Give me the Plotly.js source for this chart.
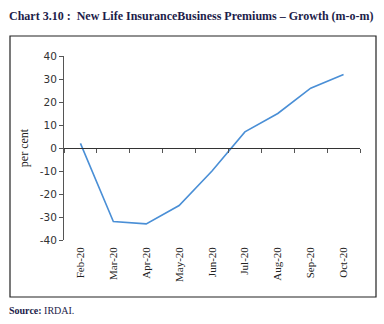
<!DOCTYPE html>
<html><head><meta charset="utf-8">
<script src="https://cdn.plot.ly/plotly-3.0.1.min.js"></script>
<style>html,body{margin:0;padding:0;background:#fff}#chart{width:384px;height:324px}</style>
</head><body><div id="chart"></div>
<script>
const months = ["Feb-20","Mar-20","Apr-20","May-20","Jun-20","Jul-20","Aug-20","Sep-20","Oct-20"];
const growth = [2, -32, -33, -25, -10, 7, 15, 26, 32];
const yTicks = [-40,-30,-20,-10,0,10,20,30,40];
const yTickText = ["-40","-30","-20","-10","0","10","20","30","40"];

const serif = "Liberation Serif, DejaVu Serif, serif";
const sans = "DejaVu Sans, Verdana, sans-serif";

const data = [{
  x: months, y: growth, type: "scatter", mode: "lines",
  line: {color: "#4a8fd6", width: 1.6}, hoverinfo: "skip", showlegend: false
},{
  x: months, y: growth, xaxis: "x2", type: "scatter", mode: "none", hoverinfo: "skip", showlegend: false
}];

const layout = {
  width: 384, height: 324,
  margin: {l: 64, r: 24, t: 56, b: 84},
  paper_bgcolor: "#fff", plot_bgcolor: "#fff",
  xaxis: {
    type: "category", range: [-0.5, 8.5], showline: false, ticks: "", showgrid: false,
    zeroline: false, tickangle: -90, tickfont: {family: serif, size: 11, color: "#222"}, ticklabelstandoff: 4
  },
  xaxis2: {
    type: "category", overlaying: "x", anchor: "free", position: 0.5, range: [-0.5, 8.5],
    showline: true, linecolor: "#333", linewidth: 1, ticks: "outside", ticklen: 4, tickcolor: "#555",
    tickson: "boundaries", showticklabels: false, showgrid: false, zeroline: false
  },
  yaxis: {
    range: [-40, 40], tickvals: yTicks, ticktext: yTickText, showline: true, linecolor: "#555",
    linewidth: 1, ticks: "outside", ticklen: 4, tickcolor: "#555", showgrid: false, zeroline: false,
    tickfont: {family: sans, size: 10.5, color: "#333"},
    title: {text: "per cent", font: {family: serif, size: 12, color: "#222"}, standoff: 8}
  },
  shapes: [{
    type: "rect", xref: "paper", yref: "paper", x0: -54/296, x1: 312/296, y0: -57/184, y1: 204/184,
    line: {color: "#222", width: 1.2}, fillcolor: "rgba(0,0,0,0)"
  }],
  annotations: [{
    xref: "paper", yref: "paper", x: -57/296, y: 224/184, xanchor: "left", yanchor: "middle",
    text: "<b>Chart 3.10 :  New Life InsuranceBusiness Premiums – Growth (m-o-m)</b>",
    showarrow: false, font: {family: serif, size: 12, color: "#1d1d4a"}
  },{
    xref: "paper", yref: "paper", x: -57/296, y: -70/184, xanchor: "left", yanchor: "middle",
    text: "<b>Source:</b> IRDAI.", showarrow: false, font: {family: serif, size: 10, color: "#1d1d4a"}
  }]
};
Plotly.newPlot("chart", data, layout, {displayModeBar: false, staticPlot: true});
</script></body></html>
